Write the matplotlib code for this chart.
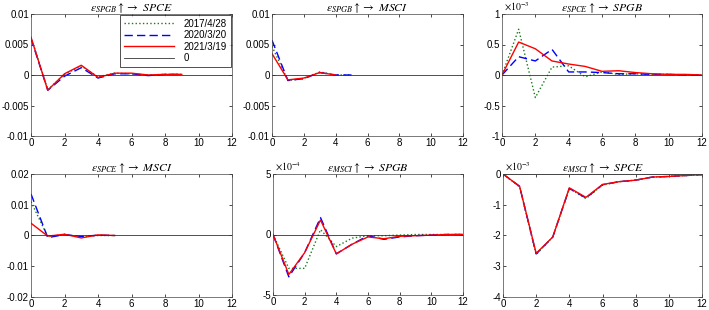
import matplotlib.pyplot as plt
import numpy as np

plt.rcParams['font.family'] = ['Liberation Sans', 'DejaVu Sans']
plt.rcParams['mathtext.fontset'] = 'stix'

labels = ['2017/4/28', '2020/3/20', '2021/3/19', '0']

# SPGB -> SPCE
p1_g = [0.0062, -0.0024, 0.0001, 0.0015, -0.0003, 0.0003, 0.0002, 0.0, 0.0001, 0.0001]
p1_b = [0.0060, -0.0025, -0.0002, 0.0012, -0.0005, 0.0002, 0.0002, -0.0001, 0.0001, 0.0001]
p1_r = [0.0062, -0.0025, 0.0002, 0.0016, -0.0004, 0.0003, 0.0003, 0.0, 0.0001, 0.0001]
# SPGB -> MSCI
p2_g = [0.0047, -0.0009, -0.0006, 0.0005, 0.0, 0.0]
p2_b = [0.0057, -0.0009, -0.0006, 0.0004, 0.0, 0.0]
p2_r = [0.0035, -0.0008, -0.0005, 0.0004, 0.0]
# SPCE -> SPGB (x1e-3)
p3_g = [0, 0.75, -0.37, 0.13, 0.15, -0.03, 0.05, 0.01, 0.02, 0.01, 0.01, 0.0, 0.0]
p3_b = [0, 0.30, 0.23, 0.42, 0.05, 0.05, 0.04, 0.02, 0.02, 0.01, 0.01, 0.0, 0.0]
p3_r = [0, 0.54, 0.43, 0.23, 0.18, 0.14, 0.06, 0.07, 0.04, 0.02, 0.01, 0.01, 0.0]
# SPCE -> MSCI
p4_g = [0.011, -0.0004, 0.0004, -0.0004, 0.0, 0.0]
p4_b = [0.0135, -0.0007, 0.0003, -0.0003, 0.0001, 0.0]
p4_r = [0.004, -0.0002, 0.0004, -0.0008, 0.0002, 0.0]
# MSCI -> SPGB (x1e-4)
p5_g = [0, -2.8, -2.8, 0.4, -1.0, -0.3, -0.1, -0.1, -0.05, 0.0, 0.0, 0.0, 0.0]
p5_b = [0, -3.5, -1.5, 1.4, -1.6, -0.8, -0.1, -0.4, -0.2, -0.1, -0.05, 0.0, 0.0]
p5_r = [0, -3.3, -1.5, 1.2, -1.6, -0.8, -0.2, -0.35, -0.15, -0.1, -0.05, 0.0, 0.0]
# MSCI -> SPCE (x1e-3)
p6_g = [0, -0.42, -2.62, -2.05, -0.47, -0.80, -0.36, -0.25, -0.2, -0.1, -0.08, -0.05, -0.02]
p6_b = [0, -0.40, -2.60, -2.05, -0.47, -0.78, -0.35, -0.25, -0.2, -0.1, -0.08, -0.05, -0.02]
p6_r = [0, -0.40, -2.58, -2.05, -0.45, -0.76, -0.34, -0.25, -0.2, -0.1, -0.08, -0.05, -0.02]

panels = [
    (r'$\varepsilon_{SPGB}\uparrow\rightarrow\ SPCE$', p1_g, p1_b, p1_r, (-0.01, 0.01), [-0.01, -0.005, 0, 0.005, 0.01], ['-0.01', '-0.005', '0', '0.005', '0.01'], None),
    (r'$\varepsilon_{SPGB}\uparrow\rightarrow\ MSCI$', p2_g, p2_b, p2_r, (-0.01, 0.01), [-0.01, -0.005, 0, 0.005, 0.01], ['-0.01', '-0.005', '0', '0.005', '0.01'], None),
    (r'$\varepsilon_{SPCE}\uparrow\rightarrow\ SPGB$', p3_g, p3_b, p3_r, (-1, 1), [-1, -0.5, 0, 0.5, 1], ['-1', '-0.5', '0', '0.5', '1'], -3),
    (r'$\varepsilon_{SPCE}\uparrow\rightarrow\ MSCI$', p4_g, p4_b, p4_r, (-0.02, 0.02), [-0.02, -0.01, 0, 0.01, 0.02], ['-0.02', '-0.01', '0', '0.01', '0.02'], None),
    (r'$\varepsilon_{MSCI}\uparrow\rightarrow\ SPGB$', p5_g, p5_b, p5_r, (-5, 5), [-5, 0, 5], ['-5', '0', '5'], -4),
    (r'$\varepsilon_{MSCI}\uparrow\rightarrow\ SPCE$', p6_g, p6_b, p6_r, (-4, 0), [-4, -3, -2, -1, 0], ['-4', '-3', '-2', '-1', '0'], -3),
]

W, H = 709, 310
boxes = [(31, 14, 232, 136), (272, 14, 463, 136), (502, 14, 702, 136),
         (31, 174, 232, 297), (273, 174, 463, 295), (503, 174, 702, 297)]

fig = plt.figure(figsize=(7.09, 3.10), dpi=100)
for i, ((title, g, b, r, ylim, yt, ytl, expo), (x0, y0, x1, y1)) in enumerate(zip(panels, boxes)):
    ax = fig.add_axes([x0 / W, 1 - y1 / H, (x1 - x0) / W, (y1 - y0) / H])
    ax.plot(np.arange(len(g)), g, ':', color='#1a7a1a', lw=1.0, label=labels[0])
    ax.plot(np.arange(len(b)), b, '--', color='blue', lw=1.0, dashes=(6, 3), label=labels[1])
    ax.plot(np.arange(len(r)), r, '-', color='red', lw=1.0, label=labels[2])
    ax.plot(np.arange(13), np.zeros(13), '-', color='#333333', lw=0.6, label=labels[3])
    ax.set_xlim(0, 12)
    ax.set_ylim(*ylim)
    ax.set_xticks(range(0, 13, 2))
    ax.set_yticks(yt)
    ax.set_yticklabels(ytl)
    ax.tick_params(direction='in', top=True, right=True, labelsize=7, length=2.5, width=0.5, pad=1.5)
    for s in ax.spines.values():
        s.set_linewidth(0.5)
        s.set_color('#444444')
    ax.set_title(title, fontsize=8.5, pad=2)
    if expo is not None:
        ax.text(0.01, 1.005, r'$\times10^{%d}$' % expo, transform=ax.transAxes,
                fontsize=7, family='DejaVu Sans', va='bottom', ha='left')
    if i == 0:
        leg = ax.legend(loc='upper right', fontsize=7, frameon=True, fancybox=False,
                        edgecolor='black', handlelength=5.2, handletextpad=1.0,
                        borderpad=0.35, labelspacing=0.15, borderaxespad=0.15)
        leg.get_frame().set_linewidth(0.6)

fig.savefig('out.png', dpi=100)
